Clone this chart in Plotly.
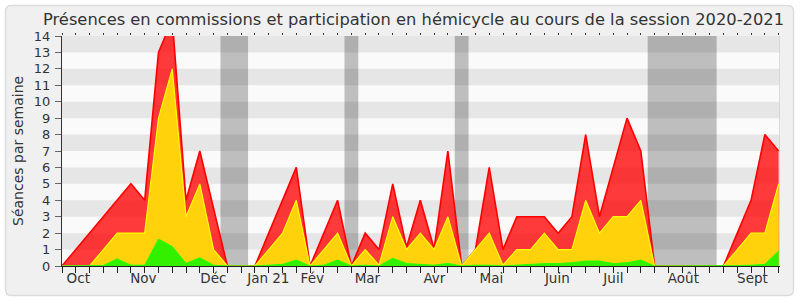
import plotly.graph_objects as go

# ---- data (weekly values, session 2020-2021) ----
weeks = list(range(53))
red = [0, 1, 2, 3, 4, 5, 4, 13, 15, 4, 7, 3.5, 0, 0, 0, 2, 4, 6, 0, 2, 4, 0, 2, 1,
       5, 1.15, 4, 1.05, 7, 0, 1, 6, 1, 3, 3, 3, 2, 3, 8, 3, 6, 9, 7, 0, 0, 0, 0, 0,
       0, 2, 4, 8, 7]
yellow = [0, 0, 0, 1, 2, 2, 2, 9, 12, 3, 5, 1, 0, 0, 0, 1, 2, 4, 0, 1, 2, 0, 1, 0.05,
          3, 1, 2, 1, 3, 0, 1, 2, 0.05, 1, 1, 2, 1, 1, 4, 2, 3, 3, 4, 0, 0, 0, 0, 0,
          0, 1, 2, 2, 5]
green = [0, 0, 0, 0.03, 0.43, 0.05, 0.05, 1.64, 1.18, 0.16, 0.5, 0.05, 0, 0, 0, 0.05,
         0.1, 0.36, 0, 0.05, 0.36, 0, 0.05, 0, 0.47, 0.15, 0.1, 0.05, 0.16, 0, 0.05,
         0.05, 0, 0.05, 0.1, 0.15, 0.15, 0.2, 0.3, 0.3, 0.15, 0.2, 0.36, 0, 0, 0, 0, 0,
         0, 0.02, 0.05, 0.1, 0.91]
month_labels = ["Oct", "Nov", "Déc", "Jan 21", "Fév", "Mar", "Avr", "Mai", "Juin",
                "Juil", "Août", "Sept"]
month_pos = [1.18, 5.9, 10.98, 14.97, 18.16, 22.16, 27.02, 31.16, 35.94, 40.01,
             45.09, 50.1]
vacations = [(11.5, 13.5), (20.5, 21.5), (28.5, 29.5), (42.5, 47.5)]
y_ticks = list(range(15))

FONT = "DejaVu Sans"
W, H = 800, 300
ML, MR, MT, MB = 62, 20, 36, 34
PW, PH = W - ML - MR, H - MT - MB
XMAX = 52.1


def px(xpix):
    return (xpix - ML) / PW


def py(ypix):
    return (H - MB - ypix) / PH


fig = go.Figure()
fig.add_trace(go.Scatter(x=weeks, y=red, mode="lines", fill="tozeroy",
                         fillcolor="rgba(255,0,0,0.77)",
                         line=dict(color="#ff0000", width=1.6), hoverinfo="skip"))
fig.add_trace(go.Scatter(x=weeks, y=yellow, mode="lines", fill="tozeroy",
                         fillcolor="rgb(255,210,12)",
                         line=dict(color="#ffff00", width=1.2), hoverinfo="skip"))
fig.add_trace(go.Scatter(x=weeks, y=green, mode="lines", fill="tozeroy",
                         fillcolor="rgb(50,240,0)",
                         line=dict(color="#22ff00", width=1), hoverinfo="skip"))
# invisible trace for top tick axis
fig.add_trace(go.Scatter(x=[0], y=[0], xaxis="x2", mode="markers",
                         marker=dict(opacity=0), hoverinfo="skip"))

shapes = []
# rounded outer frame
x0, x1, y0, y1, r = 5.5, 793.5, 5.5, 295.5, 6
path = (f"M {px(x0 + r)},{py(y0)} L {px(x1 - r)},{py(y0)} "
        f"Q {px(x1)},{py(y0)} {px(x1)},{py(y0 + r)} "
        f"L {px(x1)},{py(y1 - r)} Q {px(x1)},{py(y1)} {px(x1 - r)},{py(y1)} "
        f"L {px(x0 + r)},{py(y1)} Q {px(x0)},{py(y1)} {px(x0)},{py(y1 - r)} "
        f"L {px(x0)},{py(y0 + r)} Q {px(x0)},{py(y0)} {px(x0 + r)},{py(y0)} Z")
shapes.append(dict(type="path", path=path, xref="paper", yref="paper",
                   fillcolor="#f0f0f0", line=dict(color="#dcdcdc", width=1.5),
                   layer="below"))
# plot area background
shapes.append(dict(type="rect", xref="x", yref="y", x0=0, x1=XMAX, y0=0, y1=14,
                   fillcolor="#fafafa", line=dict(width=0), layer="below"))
# vacation bands
for a, b in vacations:
    shapes.append(dict(type="rect", xref="x", yref="y", x0=a, x1=b, y0=0, y1=14,
                       fillcolor="#bebebe", line=dict(width=0), layer="below"))
# horizontal stripes
for k in y_ticks[:-1]:
    if k % 2 == 1:
        shapes.append(dict(type="rect", xref="x", yref="y", x0=0, x1=XMAX,
                           y0=k, y1=k + 1, fillcolor="rgba(0,0,0,0.08)",
                           line=dict(width=0), layer="below"))
# right light border
shapes.append(dict(type="line", xref="x", yref="y", x0=XMAX, x1=XMAX, y0=0, y1=14,
                   line=dict(color="#d0d0d0", width=1.5), layer="below"))

annotations = [
    dict(text="Présences en commissions et participation en hémicycle au cours de la session 2020-2021",
         xref="paper", yref="paper", x=px(413), y=py(20), xanchor="center",
         yanchor="middle", showarrow=False,
         font=dict(family=FONT, size=16.3, color="#333333")),
    dict(text="Séances par semaine", xref="paper", yref="paper", x=px(18), y=0.5,
         xanchor="center", yanchor="middle", textangle=-90, showarrow=False,
         font=dict(family=FONT, size=14, color="#333333")),
]

fig.update_layout(
    width=W, height=H, autosize=False,
    margin=dict(l=ML, r=MR, t=MT, b=MB, pad=0),
    paper_bgcolor="white", plot_bgcolor="#fafafa",
    showlegend=False, shapes=shapes, annotations=annotations,
    xaxis=dict(range=[0, XMAX], tickmode="array", tickvals=month_pos,
               ticktext=month_labels, ticks="", showline=True, linecolor="#222222",
               linewidth=1, showgrid=False, zeroline=False,
               tickfont=dict(family=FONT, size=13.5, color="#333333"),
               minor=dict(tickmode="array", tickvals=weeks, ticks="outside",
                          ticklen=6, tickcolor="#222222", tickwidth=1, showgrid=False),
               fixedrange=True),
    xaxis2=dict(range=[0, XMAX], overlaying="x", side="top", anchor="y",
                tickmode="array", tickvals=weeks, ticks="outside", ticklen=2,
                tickcolor="#333333", showticklabels=False, showline=False,
                showgrid=False, zeroline=False, fixedrange=True),
    yaxis=dict(range=[0, 14], tickmode="array", tickvals=y_ticks, ticks="outside",
               ticklen=6, tickcolor="#666666", showline=True, linecolor="#333333",
               linewidth=1, showgrid=False, zeroline=False, ticklabelstandoff=2,
               tickfont=dict(family=FONT, size=13, color="#333333"),
               fixedrange=True),
)

fig.write_html("out.html")
